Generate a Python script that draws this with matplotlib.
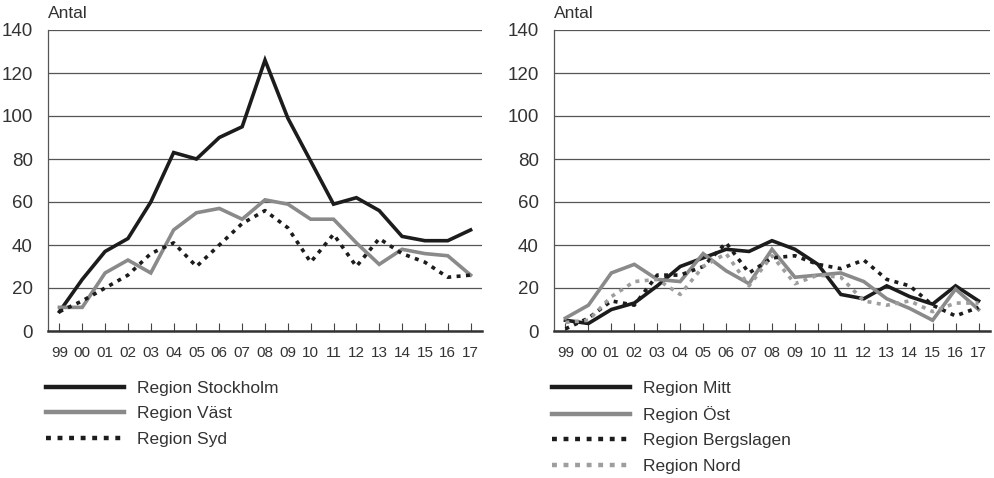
import matplotlib.pyplot as plt

years = ['99', '00', '01', '02', '03', '04', '05', '06', '07', '08',
         '09', '10', '11', '12', '13', '14', '15', '16', '17']

# left chart
stockholm = [9, 24, 37, 43, 60, 83, 80, 90, 95, 126, 99, 79, 59, 62, 56, 44, 42, 42, 47]
vast = [11, 11, 27, 33, 27, 47, 55, 57, 52, 61, 59, 52, 52, 41, 31, 38, 36, 35, 26]
syd = [9, 14, 20, 26, 36, 41, 30, 40, 50, 56, 48, 32, 45, 30, 43, 36, 32, 25, 26]

# right chart
mitt = [5, 3.5, 10, 13, 21, 30, 34, 38, 37, 42, 38, 31, 17, 15, 21, 16, 12.5, 21, 14]
ost = [6, 12, 27, 31, 24, 23, 36, 28, 22, 38, 25, 26, 27, 23, 15, 10.5, 5, 19.5, 10]
bergslagen = [1, 6, 14, 12, 26, 26, 30, 41, 27, 34, 35, 31, 29, 33, 24, 21, 12, 7, 11]
nord = [4, 5, 16, 23, 24, 17, 30, 36, 21, 35, 22, 26, 25, 14, 12, 14, 9, 13, 13]

left_series = [('Region Stockholm', stockholm), ('Region Väst', vast), ('Region Syd', syd)]
right_series = [('Region Mitt', mitt), ('Region Öst', ost),
                ('Region Bergslagen', bergslagen), ('Region Nord', nord)]

plt.rcParams['font.family'] = ['Liberation Sans', 'DejaVu Sans']

BLACK = '#1c1c1c'
GRAY = '#8a8a8a'
LGRAY = '#9e9e9e'
styles = [dict(color=BLACK, lw=2.6),
          dict(color=GRAY, lw=2.6),
          dict(color=BLACK, lw=2.6, linestyle=(0, (1.1, 1.5))),
          dict(color=LGRAY, lw=2.6, linestyle=(0, (1.1, 1.5)))]

fig = plt.figure(figsize=(9.94, 4.78), dpi=100)
W, H = 994, 478


def make_axes(x0, x1, series, leg_x):
    ax = fig.add_axes([x0 / W, (H - 331) / H, (x1 - x0) / W, 301 / H])
    x = list(range(len(years)))
    handles = []
    for (name, vals), st in zip(series, styles):
        h, = ax.plot(x, vals, label=name, solid_joinstyle='miter',
                     dash_capstyle='butt', **st)
        handles.append(h)
    ax.set_xlim(-0.5, len(years) - 0.5)
    ax.set_ylim(0, 140)
    ax.set_yticks(range(0, 141, 20))
    ax.set_xticks(x)
    ax.set_xticklabels(years, fontsize=11, color='#333333')
    ax.tick_params(axis='y', length=0, pad=11, labelsize=13.5, labelcolor='#333333')
    ax.tick_params(axis='x', direction='in', length=6, width=0.8, color='#444444',
                   pad=11)
    ax.grid(axis='y', color='#555555', lw=0.9)
    ax.set_axisbelow(True)
    for s in ['top', 'right']:
        ax.spines[s].set_visible(False)
    ax.spines['left'].set_color('#555555')
    ax.spines['left'].set_linewidth(0.9)
    ax.spines['bottom'].set_color('#333333')
    ax.spines['bottom'].set_linewidth(1.8)
    ax.text(0, 1.03, 'Antal', transform=ax.transAxes, fontsize=12.5,
            color='#333333', ha='left', va='bottom')
    leg = fig.legend(handles=handles, loc='upper left',
                     bbox_to_anchor=(leg_x / W, (H - 381) / H),
                     frameon=False, fontsize=12.5, handlelength=4.5,
                     handletextpad=0.75, labelspacing=0.58, borderpad=0,
                     borderaxespad=0)
    for t in leg.get_texts():
        t.set_color('#333333')
    for l in leg.get_lines():
        l.set_linewidth(3.2)
    return ax


make_axes(48, 482, left_series, 46)
make_axes(554, 990, right_series, 552)

plt.savefig('out.png', dpi=100)
